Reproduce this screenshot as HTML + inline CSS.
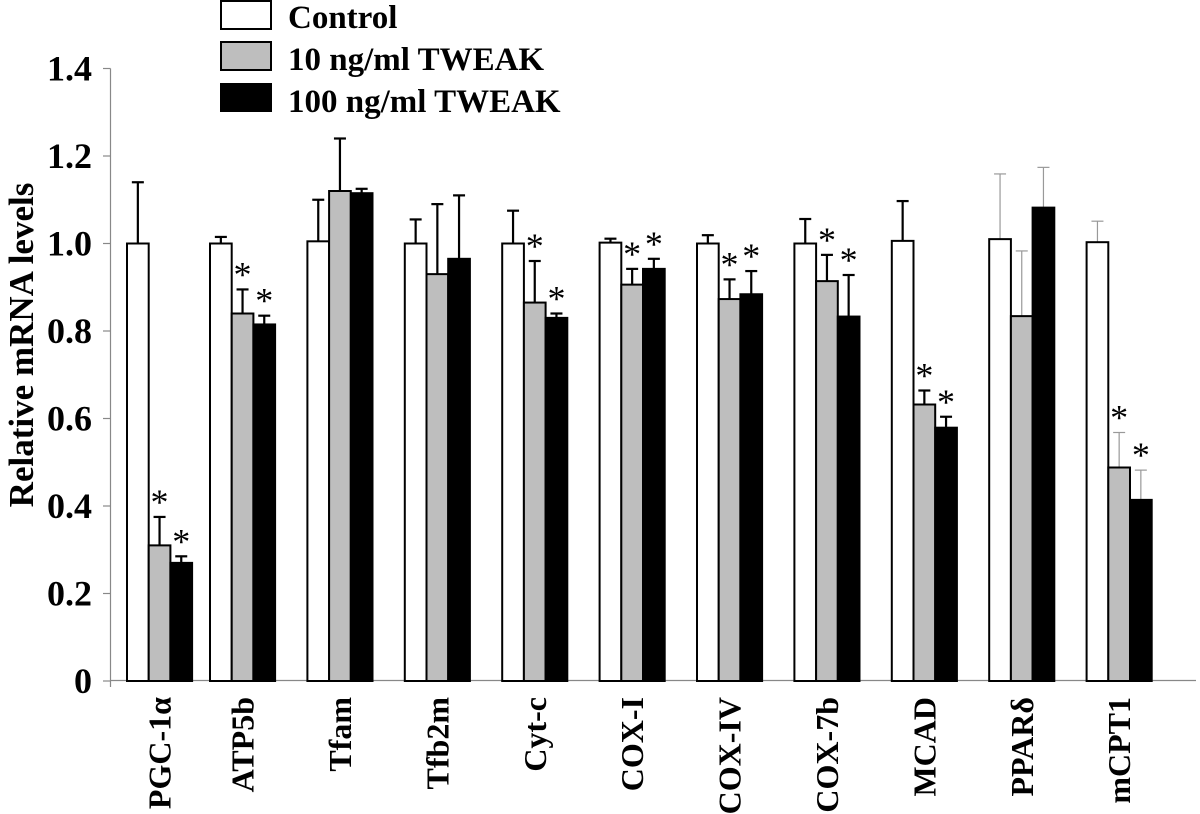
<!DOCTYPE html>
<html><head><meta charset="utf-8">
<style>
html,body{margin:0;padding:0;background:#fff;}
svg{display:block;}
svg text{font-family:"Liberation Serif",serif;font-weight:bold;}
</style></head>
<body>
<svg id="chart" width="1200" height="814" viewBox="0 0 1200 814">
<g id="legend">
  <g>
    <rect x="221" y="1" width="50" height="28" fill="#fff" stroke="#000" stroke-width="2"/>
    <text x="288" y="28" font-size="33">Control</text>
  </g>
  <g>
    <rect x="221" y="42" width="50" height="28" fill="#bebebe" stroke="#000" stroke-width="2"/>
    <text x="288" y="70" font-size="33">10 ng/ml TWEAK</text>
  </g>
  <g>
    <rect x="221" y="84" width="50" height="27" fill="#000" stroke="#000" stroke-width="2"/>
    <text x="288" y="112" font-size="33">100 ng/ml TWEAK</text>
  </g>
</g>
<text transform="translate(33,345) rotate(-90)" text-anchor="middle" font-size="35">Relative mRNA levels</text>
<g id="axes"></g>
<g id="bars"></g>
</svg>
<script>
const categories = ["PGC-1\u03b1","ATP5b","Tfam","Tfb2m","Cyt-c","COX-I","COX-IV","COX-7b","MCAD","PPAR\u03b4","mCPT1"];
const controlValues = [1.0,1.0,1.005,1.0,1.0,1.002,1.0,1.0,1.006,1.01,1.003];
const controlErrors = [0.14,0.015,0.095,0.055,0.075,0.009,0.019,0.056,0.091,0.149,0.048];
const tweak10Values = [0.31,0.84,1.12,0.93,0.865,0.906,0.873,0.914,0.632,0.834,0.488];
const tweak10Errors = [0.065,0.055,0.12,0.16,0.095,0.036,0.045,0.06,0.032,0.149,0.08];
const tweak100Values = [0.27,0.815,1.115,0.965,0.83,0.942,0.884,0.833,0.579,1.082,0.414];
const tweak100Errors = [0.015,0.02,0.01,0.145,0.01,0.023,0.053,0.095,0.025,0.092,0.068];
const tweak10Sig = [1,1,0,0,1,1,1,1,1,0,1];
const tweak100Sig = [1,1,0,0,1,1,1,1,1,0,1];
const yTicks = [0,0.2,0.4,0.6,0.8,1.0,1.2,1.4];
const yTickLabels = ["0","0.2","0.4","0.6","0.8","1.0","1.2","1.4"];

const NS = "http://www.w3.org/2000/svg";
const y0 = 681, yPerUnit = 437.5;
function yScale(v){ return y0 - v*yPerUnit; }
function groupX(i){ return i===0 ? 127 : 210 + 97.4*(i-1); }
const barW = 21.7;
function mk(tag, attrs, parent){ const e=document.createElementNS(NS,tag); for(const k in attrs) e.setAttribute(k,attrs[k]); parent.appendChild(e); return e; }

const axes = document.getElementById('axes');
let yl = mk('line',{x1:110.5,y1:yScale(1.4),x2:110.5,y2:687,stroke:'#888','stroke-width':1.2},axes);


let xl = mk('line',{x1:110,y1:680.5,x2:1196,y2:680.5,stroke:'#888','stroke-width':1.2},axes);


yTicks.forEach((t,i)=>{
  const y = yScale(t);
  let tk = mk('line',{x1:103,y1:y,x2:110.5,y2:y,stroke:'#888','stroke-width':1.2},axes);
  
  
  let lb = mk('text',{x:92,y:y+12,'text-anchor':'end','font-size':36},axes);
  lb.textContent = yTickLabels[i];
  
  
});

const bars = document.getElementById('bars');
const series = [
  {vals:controlValues, errs:controlErrors, fill:'#fff', sig:null, name:'control'},
  {vals:tweak10Values, errs:tweak10Errors, fill:'#bebebe', sig:tweak10Sig, name:'10ng'},
  {vals:tweak100Values, errs:tweak100Errors, fill:'#000', sig:tweak100Sig, name:'100ng'}
];
categories.forEach((c,i)=>{
  const gx = groupX(i);
  series.forEach((s,j)=>{
    const x = gx + j*barW;
    const v = s.vals[i], top = yScale(v);
    const cx = x + barW/2;
    const thin = i>=9;
    const etop = yScale(v + s.errs[i]);
    let el = mk('line',{x1:cx,y1:top,x2:cx,y2:etop,stroke:thin?'#999':'#000','stroke-width':thin?1.2:2.2},bars);
    
    
    let ec = mk('line',{x1:cx-6,y1:etop,x2:cx+6,y2:etop,stroke:thin?'#999':'#000','stroke-width':thin?1.2:2.2},bars);
    
    
    let r = mk('rect',{x:x,y:top,width:barW,height:y0-top,fill:s.fill,stroke:'#000','stroke-width':2},bars);
    
    
    if(s.sig && s.sig[i]){
      let st = mk('text',{x:cx,y:etop-3,'text-anchor':'middle','font-size':36},bars);
      st.textContent='*';
      
      
      st.setAttribute('style','font-weight:normal');
    }
  });
  const lx = gx + barW*1.5;
  let lb = mk('text',{transform:`translate(${lx+11},697) rotate(-90)`,'text-anchor':'end','font-size':32},bars);
  lb.textContent = c;
  
  
});
</script>
</body></html>
